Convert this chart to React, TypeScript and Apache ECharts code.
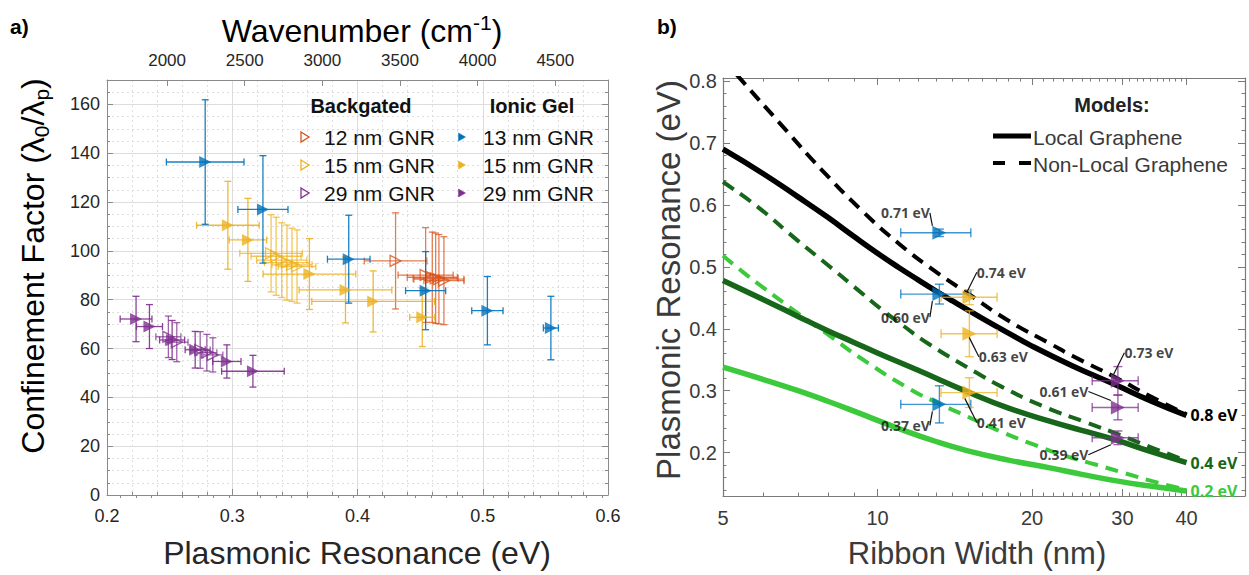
import React, { useEffect, useRef } from "react";
import * as echarts from "echarts";

// ================= Panel a: Confinement factor vs plasmonic resonance =================
// Backgated (hollow markers)
const bg12Res = [0.4304, 0.4544, 0.4597, 0.4624, 0.465, 0.469];
const bg12Conf = [95.9, 90.1, 89.2, 88.8, 88.4, 87.8];
const bg12ResErr = [0.025, 0.022, 0.02, 0.018, 0.02, 0.016];
const bg12ConfErr = [19.7, 19.4, 18.5, 18.5, 18.3, 18.0];

const bg15Res = [0.331, 0.335, 0.3395, 0.3437, 0.3477, 0.3517];
const bg15Conf = [99.0, 97.8, 96.2, 95.2, 94.3, 93.6];
const bg15ResErr = [0.025, 0.02, 0.02, 0.018, 0.016, 0.015];
const bg15ConfErr = [15.8, 16.0, 15.3, 15.4, 15.0, 15.0];

const bg29Res = [0.249, 0.2557, 0.2744, 0.2797, 0.2845];
const bg29Conf = [64.8, 62.6, 59.4, 58.3, 57.4];
const bg29ResErr = [0.01, 0.009, 0.008, 0.008, 0.008];
const bg29ConfErr = [8.5, 8.0, 7.5, 7.5, 7.0];

// Ionic gel (filled markers)
const ig13Res = [0.2784, 0.3245, 0.393, 0.4544, 0.5037, 0.5544];
const ig13Conf = [136.4, 117.0, 96.6, 83.7, 75.5, 68.4];
const ig13ResErr = [0.031, 0.02, 0.017, 0.016, 0.0125, 0.006];
const ig13ConfErr = [25.5, 22.0, 18.0, 16.0, 14.0, 13.0];

const ig15Res = [0.2965, 0.3125, 0.3616, 0.3904, 0.4125, 0.4517];
const ig15Conf = [110.5, 104.5, 90.5, 84.0, 79.3, 72.8];
const ig15ResErr = [0.025, 0.015, 0.037, 0.037, 0.049, 0.01];
const ig15ConfErr = [18.0, 17.0, 14.5, 13.5, 12.5, 12.0];

const ig29Res = [0.2232, 0.2339, 0.252, 0.2704, 0.2957, 0.3165];
const ig29Conf = [72.1, 69.0, 63.5, 59.5, 54.7, 50.7];
const ig29ResErr = [0.0127, 0.0104, 0.01, 0.008, 0.0113, 0.025];
const ig29ConfErr = [9.3, 9.0, 8.0, 7.5, 6.8, 6.5];

const legendBackgated = ["12 nm GNR", "15 nm GNR", "29 nm GNR"];
const legendIonic = ["13 nm GNR", "15 nm GNR", "29 nm GNR"];

const resTickLabels = [0.2, 0.3, 0.4, 0.5, 0.6];
const wavenumberTickLabels = [2000, 2500, 3000, 3500, 4000, 4500];
const wavenumberMinorTicks = [1700, 1800, 1900, 2100, 2200, 2300, 2400, 2600, 2700, 2800, 2900, 3100, 3200, 3300, 3400, 3600, 3700, 3800, 3900, 4100, 4200, 4300, 4400, 4600, 4700, 4800];
const EV_TO_WAVENUMBER = 8065.54;

// ================= Panel b: Plasmonic resonance vs ribbon width =================
const localW08 = [5, 6, 7, 8, 9, 10, 11, 12, 13, 14, 16, 18, 20, 24, 29, 34, 40];
const localV08 = [0.69, 0.65, 0.613, 0.58, 0.549, 0.522, 0.499, 0.479, 0.461, 0.445, 0.417, 0.393, 0.372, 0.34, 0.31, 0.284, 0.26];
const nonlocalW08 = [5, 5.4, 6.5, 7.8, 9.4, 11.1, 13, 15, 18, 21.8, 24, 29, 34, 40];
const nonlocalV08 = [0.836, 0.804, 0.729, 0.656, 0.588, 0.535, 0.492, 0.457, 0.413, 0.375, 0.356, 0.322, 0.291, 0.262];

const localW04 = [5, 6, 7, 8, 9, 10, 12, 15, 18, 21.8, 25, 29, 34, 40];
const localV04 = [0.478, 0.447, 0.42, 0.397, 0.378, 0.361, 0.333, 0.298, 0.272, 0.25, 0.236, 0.221, 0.202, 0.184];
const nonlocalW04 = [5, 5.84, 7, 8, 9, 10.3, 11.1, 12.5, 15.6, 17.4, 21, 25.3, 30, 35, 40];
const nonlocalV04 = [0.637, 0.597, 0.542, 0.503, 0.468, 0.428, 0.408, 0.377, 0.329, 0.307, 0.275, 0.25, 0.227, 0.205, 0.187];

const localW02 = [5, 6, 7, 8, 9, 11, 13, 15, 18, 21.8, 25, 29.4, 34, 40];
const localV02 = [0.338, 0.318, 0.3, 0.283, 0.267, 0.239, 0.218, 0.203, 0.188, 0.175, 0.165, 0.154, 0.146, 0.138];
const nonlocalW02 = [5, 5.5, 6, 7, 8, 9.3, 11.6, 13.2, 15, 17.5, 20, 23, 26.8, 30, 35, 40];
const nonlocalV02 = [0.518, 0.49, 0.466, 0.425, 0.391, 0.352, 0.302, 0.279, 0.258, 0.233, 0.214, 0.196, 0.18, 0.168, 0.152, 0.14];

// measured points
const m13W = [13.2, 13.2, 13.2];
const m13WLo = [11.1, 11.1, 11.1];
const m13WHi = [15.2, 15.2, 15.2];
const m13V = [0.555, 0.456, 0.278];
const m13VErr = [0.006, 0.016, 0.03];
const m13Labels = ["0.71 eV", "0.60 eV", "0.37 eV"];

const m15W = [15.1, 15.1, 15.1];
const m15WLo = [13.3, 13.3, 13.3];
const m15WHi = [17.1, 17.1, 17.1];
const m15V = [0.451, 0.392, 0.297];
const m15VErr = [0.012, 0.037, 0.024];
const m15Labels = ["0.74 eV", "0.63 eV", "0.41 eV"];

const m29W = [29.4, 29.4, 29.4];
const m29WLo = [26.2, 26.2, 26.2];
const m29WHi = [32.2, 32.2, 32.2];
const m29V = [0.316, 0.273, 0.224];
const m29VErr = [0.023, 0.02, 0.011];
const m29Labels = ["0.73 eV", "0.61 eV", "0.39 eV"];

const widthTickLabels = [5, 10, 20, 30, 40];
const widthMinorTicks = [6, 7, 8, 9, 11, 12, 13, 14, 15, 16, 17, 18, 19, 21, 22, 23, 24, 25, 26, 27, 28, 29, 31, 32, 33, 34, 35, 36, 37, 38, 39];
const resonanceTickLabels = [0.2, 0.3, 0.4, 0.5, 0.6, 0.7, 0.8];
const resonanceMinorTicks = [0.14, 0.16, 0.18, 0.22, 0.24, 0.26, 0.28, 0.32, 0.34, 0.36, 0.38, 0.42, 0.44, 0.46, 0.48, 0.52, 0.54, 0.56, 0.58, 0.62, 0.64, 0.66, 0.68, 0.72, 0.74, 0.76, 0.78];

// label offsets (layout only)
const off13 = [[-34, -20], [-34, 23], [-34, 21]];
const off15 = [[32, -25], [34, 23], [32, 30]];
const off29 = [[31, -28], [-54, -16], [-54, 17]];

// ================= styling =================
const BLUE = "#0072BD";
const ORANGE = "#D95319";
const YELLOW = "#EDB120";
const PURPLE = "#7E2F8E";
const DARK_GREEN = "#17661a";
const LIGHT_GREEN = "#3cc93c";
const FONT = '"Liberation Sans", Arial, Helvetica, sans-serif';
const ANNOT_FONT = '"Open Sans", "Noto Sans", sans-serif';
const TEXT_A = "#262626";
const TEXT_B = "#3a3a3a";
const FRAME_A = "#8a8a8a";
const FRAME_B = "#7a7a7a";

function errorBars(o: any) {
  const data = o.xs.map((x: number, i: number) => [x, o.ys[i], o.xLo[i], o.xHi[i], o.yLo[i], o.yHi[i]]);
  return {
    type: "custom",
    xAxisIndex: o.xAxisIndex,
    yAxisIndex: o.yAxisIndex,
    data,
    encode: { x: [0, 2, 3], y: [1, 4, 5] },
    z: 3,
    silent: true,
    renderItem: (_p: any, api: any) => {
      const x = api.value(0);
      const y = api.value(1);
      const l = api.coord([api.value(2), y]);
      const r = api.coord([api.value(3), y]);
      const b = api.coord([x, api.value(4)]);
      const t = api.coord([x, api.value(5)]);
      const c = o.cap;
      const style = { stroke: o.color, lineWidth: o.width, opacity: o.opacity, fill: null };
      const seg = (x1: number, y1: number, x2: number, y2: number) => ({ type: "line", shape: { x1, y1, x2, y2 }, style });
      return {
        type: "group",
        children: [
          seg(l[0], l[1], r[0], r[1]),
          seg(b[0], b[1], t[0], t[1]),
          seg(l[0], l[1] - c, l[0], l[1] + c),
          seg(r[0], r[1] - c, r[0], r[1] + c),
          seg(t[0] - c, t[1], t[0] + c, t[1]),
          seg(b[0] - c, b[1], b[0] + c, b[1]),
        ],
      };
    },
  };
}

function triangles(o: any) {
  return {
    type: "scatter",
    xAxisIndex: o.xAxisIndex,
    yAxisIndex: o.yAxisIndex,
    data: o.xs.map((x: number, i: number) => [x, o.ys[i]]),
    symbol: "triangle",
    symbolRotate: -90,
    symbolSize: o.size,
    itemStyle: o.hollow
      ? { color: "rgba(255,255,255,0)", borderColor: o.color, borderWidth: 1.3 }
      : { color: o.color },
    z: 4,
    silent: true,
    ...(o.labels
      ? {
          label: {
            show: true,
            position: "inside",
            formatter: (p: any) => o.labels[p.dataIndex],
            fontFamily: ANNOT_FONT,
            fontWeight: "bold",
            fontSize: 14,
            color: "#111",
          },
          labelLayout: (p: any) => ({ dx: o.offsets[p.dataIndex][0], dy: o.offsets[p.dataIndex][1] }),
          labelLine: { show: true, lineStyle: { color: "#111", width: 1.2 } },
        }
      : {}),
  };
}

function panelAPair(xs: number[], ys: number[], xe: number[], ye: number[], color: string, hollow: boolean) {
  return [
    errorBars({
      xs, ys,
      xLo: xs.map((x, i) => x - xe[i]),
      xHi: xs.map((x, i) => x + xe[i]),
      yLo: ys.map((y, i) => y - ye[i]),
      yHi: ys.map((y, i) => y + ye[i]),
      color, width: 1.3, cap: 3.5, opacity: hollow ? 0.75 : 0.9,
      xAxisIndex: 0, yAxisIndex: 0,
    }),
    triangles({ xs, ys, color, hollow, size: hollow ? 11 : 12, xAxisIndex: 0, yAxisIndex: 0 }),
  ];
}

function panelBPair(ws: number[], wlo: number[], whi: number[], vs: number[], ve: number[], color: string, labels: string[], offsets: number[][]) {
  return [
    errorBars({
      xs: ws, ys: vs, xLo: wlo, xHi: whi,
      yLo: vs.map((v, i) => v - ve[i]),
      yHi: vs.map((v, i) => v + ve[i]),
      color, width: 1.4, cap: 4.5, opacity: 0.75,
      xAxisIndex: 3, yAxisIndex: 3,
    }),
    triangles({ xs: ws, ys: vs, color, hollow: false, size: 14, xAxisIndex: 3, yAxisIndex: 3, labels, offsets }),
  ];
}

function modelLine(ws: number[], vs: number[], color: string, width: number, dashed: boolean, endText?: string) {
  return {
    type: "line",
    xAxisIndex: 3,
    yAxisIndex: 3,
    data: ws.map((w, i) => [w, vs[i]]),
    showSymbol: false,
    symbol: "none",
    smooth: 0.5,
    clip: true,
    silent: true,
    z: 2,
    lineStyle: { color, width, type: dashed ? [13, 8] : "solid", cap: "butt", join: "round" },
    endLabel: endText
      ? { show: true, formatter: endText, color, fontFamily: ANNOT_FONT, fontWeight: "bold", fontSize: 16, distance: 4 }
      : { show: false },
  };
}

function buildOption() {
  const lg = Math.log10;
  const axA = (extra: any) => ({
    axisLine: { show: true, onZero: false, lineStyle: { color: FRAME_A, width: 1 } },
    axisTick: { show: true, inside: true, length: 6, lineStyle: { color: FRAME_A } },
    axisLabel: { show: false },
    splitLine: { show: false },
    ...extra,
  });
  const axB = (extra: any) => ({
    axisLine: { show: true, onZero: false, lineStyle: { color: FRAME_B, width: 1.2 } },
    axisLabel: { show: false },
    splitLine: { show: false },
    ...extra,
  });
  const wMin = lg(5);
  const wMax = lg(52);
  const rich = {
    n: { fontSize: 32, fontFamily: FONT, color: TEXT_A, lineHeight: 38, verticalAlign: "middle" },
    sub: { fontSize: 21, fontFamily: FONT, color: TEXT_A, lineHeight: 38, verticalAlign: "bottom" },
    sup: { fontSize: 21, fontFamily: FONT, color: TEXT_A, lineHeight: 38, verticalAlign: "top" },
  };
  const legendRowsY = [137, 165, 193];
  const legendColors = [ORANGE, YELLOW, PURPLE];
  const legendColorsIonic = [BLUE, YELLOW, PURPLE];
  const tri = (cx: number, cy: number, w: number, h: number) => [[cx - w / 2, cy - h / 2], [cx + w / 2, cy], [cx - w / 2, cy + h / 2]];

  const graphic: any[] = [
    { type: "text", x: 10, y: 26, z: 100, style: { text: "a)", fontSize: 21, fontWeight: "bold", fontFamily: FONT, fill: "#000", align: "left", verticalAlign: "middle" } },
    { type: "text", x: 657, y: 26, z: 100, style: { text: "b)", fontSize: 21, fontWeight: "bold", fontFamily: FONT, fill: "#000", align: "left", verticalAlign: "middle" } },
    { type: "text", x: 362, y: 31, z: 100, style: { text: "{n|Wavenumber (cm}{sup|-1}{n|)}", rich, align: "center", verticalAlign: "middle" } },
    { type: "text", x: 357, y: 553, z: 100, style: { text: "Plasmonic Resonance (eV)", fontSize: 32, fontFamily: FONT, fill: TEXT_A, align: "center", verticalAlign: "middle" } },
    { type: "text", x: 33, y: 266, rotation: Math.PI / 2, z: 100, style: { text: "{n|Confinement Factor (λ}{sub|0}{n|/λ}{sub|p}{n|)}", rich, align: "center", verticalAlign: "middle" } },
    { type: "text", x: 668, y: 280, rotation: Math.PI / 2, z: 100, style: { text: "Plasmonic Resonance (eV)", fontSize: 33, fontFamily: FONT, fill: TEXT_B, align: "center", verticalAlign: "middle" } },
    { type: "text", x: 977, y: 553, z: 100, style: { text: "Ribbon Width (nm)", fontSize: 31, fontFamily: FONT, fill: TEXT_B, align: "center", verticalAlign: "middle" } },
    // panel a legend
    { type: "text", x: 361, y: 106, z: 100, style: { text: "Backgated", fontSize: 20, fontWeight: "bold", fontFamily: FONT, fill: "#111", align: "center", verticalAlign: "middle" } },
    { type: "text", x: 532, y: 106, z: 100, style: { text: "Ionic Gel", fontSize: 20, fontWeight: "bold", fontFamily: FONT, fill: "#111", align: "center", verticalAlign: "middle" } },
    // panel b legend
    { type: "text", x: 1112, y: 105, z: 100, style: { text: "Models:", fontSize: 20, fontWeight: "bold", fontFamily: FONT, fill: "#222", align: "center", verticalAlign: "middle" } },
    { type: "line", z: 100, shape: { x1: 993, y1: 136, x2: 1031, y2: 136 }, style: { stroke: "#000", lineWidth: 5 } },
    { type: "text", x: 1033, y: 137, z: 100, style: { text: "Local Graphene", fontSize: 21, fontFamily: FONT, fill: TEXT_B, align: "left", verticalAlign: "middle" } },
    { type: "line", z: 100, shape: { x1: 993, y1: 163, x2: 1033, y2: 163 }, style: { stroke: "#000", lineWidth: 4, lineDash: [12, 14] } },
    { type: "text", x: 1033, y: 164, z: 100, style: { text: "Non-Local Graphene", fontSize: 21, fontFamily: FONT, fill: TEXT_B, align: "left", verticalAlign: "middle" } },
  ];
  legendBackgated.forEach((t, i) => {
    graphic.push({ type: "polygon", z: 100, shape: { points: tri(305, legendRowsY[i], 8, 10) }, style: { fill: "none", stroke: legendColors[i], lineWidth: 1.3 } });
    graphic.push({ type: "text", x: 324, y: legendRowsY[i], z: 100, style: { text: t, fontSize: 21, fontFamily: FONT, fill: "#111", align: "left", verticalAlign: "middle" } });
  });
  legendIonic.forEach((t, i) => {
    graphic.push({ type: "polygon", z: 100, shape: { points: tri(462, legendRowsY[i], 7, 8) }, style: { fill: legendColorsIonic[i], stroke: legendColorsIonic[i], lineWidth: 0.5 } });
    graphic.push({ type: "text", x: 483, y: legendRowsY[i], z: 100, style: { text: t, fontSize: 21, fontFamily: FONT, fill: "#111", align: "left", verticalAlign: "middle" } });
  });

  return {
    animation: false,
    backgroundColor: "#fff",
    grid: [
      { left: 107, top: 80, width: 501, height: 415, containLabel: false, outerBoundsMode: "none" },
      { left: 723, top: 78, width: 522, height: 418, containLabel: false, outerBoundsMode: "none" },
    ],
    xAxis: [
      axA({
        gridIndex: 0, type: "value", position: "bottom", min: 0.2, max: 0.6, interval: 0.1,
        minorTick: { show: true, splitNumber: 5, length: 3, lineStyle: { color: FRAME_A } },
        axisLabel: { show: true, color: TEXT_A, fontSize: 18, fontFamily: FONT, margin: 12, customValues: resTickLabels },
        splitLine: { show: true, lineStyle: { color: "#dcdcdc", width: 1 } },
        minorSplitLine: { show: true, lineStyle: { color: "#dedede", width: 1, type: [2, 3] } },
      }),
      axA({
        gridIndex: 0, type: "value", position: "top",
        min: 0.2 * EV_TO_WAVENUMBER, max: 0.6 * EV_TO_WAVENUMBER,
        axisTick: { show: true, inside: true, length: 6, customValues: wavenumberTickLabels, lineStyle: { color: FRAME_A } },
        axisLabel: {
          show: true, color: TEXT_A, fontSize: 17, fontFamily: FONT, margin: 11,
          customValues: wavenumberTickLabels,
          formatter: (v: number) => String(Math.round(v)),
        },
      }),
      axA({
        gridIndex: 0, type: "value", position: "top",
        min: 0.2 * EV_TO_WAVENUMBER, max: 0.6 * EV_TO_WAVENUMBER,
        axisLine: { show: false },
        axisTick: { show: true, inside: true, length: 3, customValues: wavenumberMinorTicks, lineStyle: { color: FRAME_A } },
      }),
      { gridIndex: 1, type: "log", logBase: 10, min: 5, max: 52, show: false },
      axB({
        gridIndex: 1, type: "value", position: "bottom", min: wMin, max: wMax,
        axisTick: { show: true, inside: true, length: 7, customValues: widthTickLabels.map(lg), lineStyle: { color: FRAME_B } },
        axisLabel: {
          show: true, color: TEXT_B, fontSize: 20, fontFamily: FONT, margin: 12,
          customValues: widthTickLabels.map(lg),
          formatter: (v: number) => String(Math.round(Math.pow(10, v))),
        },
      }),
      axB({
        gridIndex: 1, type: "value", position: "bottom", min: wMin, max: wMax,
        axisLine: { show: false },
        axisTick: { show: true, inside: true, length: 3.5, customValues: widthMinorTicks.map(lg), lineStyle: { color: FRAME_B } },
      }),
      axB({
        gridIndex: 1, type: "value", position: "top", min: wMin, max: wMax,
        axisTick: { show: true, inside: true, length: 7, customValues: widthTickLabels.map(lg), lineStyle: { color: FRAME_B } },
      }),
      axB({
        gridIndex: 1, type: "value", position: "top", min: wMin, max: wMax,
        axisLine: { show: false },
        axisTick: { show: true, inside: true, length: 3.5, customValues: widthMinorTicks.map(lg), lineStyle: { color: FRAME_B } },
      }),
    ],
    yAxis: [
      axA({
        gridIndex: 0, type: "value", position: "left", min: 0, max: 170, interval: 20,
        minorTick: { show: true, splitNumber: 4, length: 3, lineStyle: { color: FRAME_A } },
        axisLabel: { show: true, color: TEXT_A, fontSize: 18, fontFamily: FONT, margin: 7, showMaxLabel: false },
        splitLine: { show: true, lineStyle: { color: "#dcdcdc", width: 1 } },
      }),
      {
        gridIndex: 0, type: "value", position: "left", min: 0, max: 170, interval: 5,
        axisLine: { show: false }, axisTick: { show: false }, axisLabel: { show: false },
        splitLine: { show: true, lineStyle: { color: "#dedede", width: 1, type: [2, 3] } },
      },
      axA({
        gridIndex: 0, type: "value", position: "right", min: 0, max: 170, interval: 20,
        minorTick: { show: true, splitNumber: 4, length: 3, lineStyle: { color: FRAME_A } },
      }),
      axB({
        gridIndex: 1, type: "value", position: "left", min: 0.13, max: 0.805,
        axisTick: { show: true, inside: true, length: 7, customValues: resonanceTickLabels, lineStyle: { color: FRAME_B } },
        axisLabel: {
          show: true, color: TEXT_B, fontSize: 20, fontFamily: FONT, margin: 6,
          customValues: resonanceTickLabels,
          formatter: (v: number) => v.toFixed(1),
        },
      }),
      axB({
        gridIndex: 1, type: "value", position: "left", min: 0.13, max: 0.805,
        axisLine: { show: false },
        axisTick: { show: true, inside: true, length: 3.5, customValues: resonanceMinorTicks, lineStyle: { color: FRAME_B } },
      }),
      axB({
        gridIndex: 1, type: "value", position: "right", min: 0.13, max: 0.805,
        axisTick: { show: true, inside: true, length: 7, customValues: resonanceTickLabels, lineStyle: { color: FRAME_B } },
      }),
      axB({
        gridIndex: 1, type: "value", position: "right", min: 0.13, max: 0.805,
        axisLine: { show: false },
        axisTick: { show: true, inside: true, length: 3.5, customValues: resonanceMinorTicks, lineStyle: { color: FRAME_B } },
      }),
    ],
    graphic,
    series: [
      ...panelAPair(bg12Res, bg12Conf, bg12ResErr, bg12ConfErr, ORANGE, true),
      ...panelAPair(bg15Res, bg15Conf, bg15ResErr, bg15ConfErr, YELLOW, true),
      ...panelAPair(bg29Res, bg29Conf, bg29ResErr, bg29ConfErr, PURPLE, true),
      ...panelAPair(ig15Res, ig15Conf, ig15ResErr, ig15ConfErr, YELLOW, false),
      ...panelAPair(ig29Res, ig29Conf, ig29ResErr, ig29ConfErr, PURPLE, false),
      ...panelAPair(ig13Res, ig13Conf, ig13ResErr, ig13ConfErr, BLUE, false),
      modelLine(nonlocalW02, nonlocalV02, LIGHT_GREEN, 4, true),
      modelLine(localW02, localV02, LIGHT_GREEN, 5.5, false, "0.2 eV"),
      modelLine(nonlocalW04, nonlocalV04, DARK_GREEN, 4, true),
      modelLine(localW04, localV04, DARK_GREEN, 5.5, false, "0.4 eV"),
      modelLine(nonlocalW08, nonlocalV08, "#000", 4, true),
      modelLine(localW08, localV08, "#000", 5.5, false, "0.8 eV"),
      ...panelBPair(m13W, m13WLo, m13WHi, m13V, m13VErr, BLUE, m13Labels, off13),
      ...panelBPair(m15W, m15WLo, m15WHi, m15V, m15VErr, YELLOW, m15Labels, off15),
      ...panelBPair(m29W, m29WLo, m29WHi, m29V, m29VErr, PURPLE, m29Labels, off29),
    ],
  };
}

export default function App() {
  const ref = useRef<HTMLDivElement>(null);
  useEffect(() => {
    if (!ref.current) return;
    const chart = echarts.init(ref.current, null, { renderer: "svg" });
    chart.setOption(buildOption() as any);
    return () => chart.dispose();
  }, []);
  return (
    <div
      ref={ref}
      style={{ position: "fixed", left: 0, top: 0, width: 1249, height: 575, background: "#fff" }}
    />
  );
}
